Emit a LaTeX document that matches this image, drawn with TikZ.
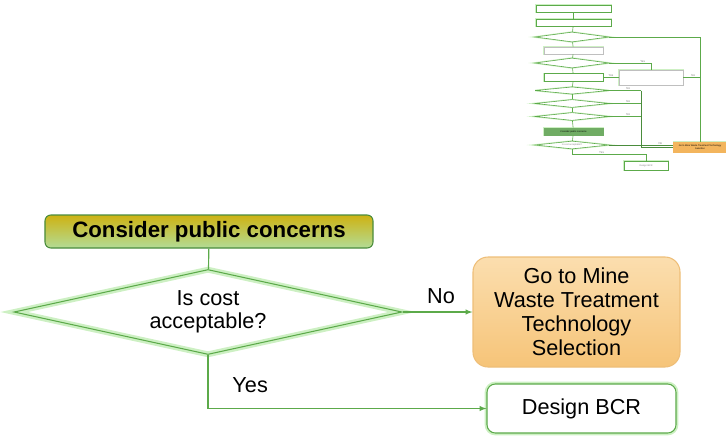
\documentclass[tikz,border=0pt]{standalone}
\usepackage{fontspec}
\setmainfont{Liberation Sans}
\usetikzlibrary{arrows}
\usetikzlibrary{shapes.geometric,calc}

\definecolor{linegreen}{RGB}{92,170,74}
\definecolor{darkgreen}{RGB}{74,140,60}
\definecolor{glowgreen}{RGB}{205,240,195}
\definecolor{goldtop}{RGB}{206,178,18}
\definecolor{palegreen}{RGB}{178,220,150}
\definecolor{orangetop}{RGB}{251,222,175}
\definecolor{orangemid}{RGB}{240,162,52}
\definecolor{orangebot}{RGB}{246,196,120}
\definecolor{orangeline}{RGB}{238,190,120}
\definecolor{minigreen}{RGB}{112,172,100}

\begin{document}
\begin{tikzpicture}[x=0.03cm,y=-0.03cm,
		box/.style={rectangle,rounded corners=5pt,draw=linegreen,line width=0.9pt,inner sep=0pt,align=center,font=\fontsize{18.5}{20.5}\selectfont},
		decision/.style={diamond,draw=linegreen,line width=0.9pt,inner sep=0pt,align=center,font=\fontsize{18.5}{20}\selectfont,preaction={draw=glowgreen,line width=5pt}},
		flow/.style={draw=linegreen,line width=1pt},
		mini/.style={rectangle,draw=linegreen,line width=0.5pt,fill=white,inner sep=0pt,align=center,text=gray,font=\fontsize{2}{2.4}\selectfont,preaction={draw=glowgreen,line width=1.2pt}},
		minidec/.style={diamond,shape aspect=9,draw=linegreen,line width=0.5pt,fill=white,inner sep=0pt,align=center,text=gray,font=\fontsize{2}{2.4}\selectfont,preaction={draw=glowgreen,line width=1.5pt}},
		tline/.style={draw=linegreen,line width=0.5pt},
		tlabel/.style={text=gray,font=\fontsize{2.5}{3}\selectfont,inner sep=0.5pt}]
		\useasboundingbox (0,0) rectangle (726,437);

		% enlarged part
		\node[box,draw=darkgreen,top color=goldtop,bottom color=palegreen,minimum width=9.84cm,minimum height=0.99cm,font=\fontsize{19}{21}\selectfont\bfseries] (consider) at (209,231.5) {Consider public concerns};
		\node[decision,shape aspect=4.56,minimum width=11.64cm,minimum height=2.55cm] (cost) at (208,312) {Is cost\\acceptable?};
		\node[box,draw=orangeline,top color=orangetop,middle color=orangemid,bottom color=orangebot,rounded corners=0.45cm,minimum width=6.21cm,minimum height=3.3cm] (mine) at (576.5,312) {Go to Mine\\Waste Treatment\\Technology\\Selection};
		\node[box,fill=white,preaction={draw=glowgreen,line width=4pt},rounded corners=0.25cm,minimum width=5.67cm,minimum height=1.47cm] (bcr) at (581.5,408.5) {Design BCR};

		\draw[flow] (consider) -- (cost);
		\draw[flow,-latex] (cost.east) -- (mine.west) node[pos=0.55,above=3pt,font=\fontsize{18.5}{20}\selectfont] (no) {No};
		\draw[flow,-latex] (cost.south) |- (bcr.west) node[pos=0.28,right=0.6cm,font=\fontsize{18.5}{20}\selectfont] (yes) {Yes};

		% thumbnail of the whole chart
		\node[mini,minimum width=2.25cm,minimum height=0.21cm] (t1) at (573.5,8.5) {};
		\node[mini,minimum width=2.25cm,minimum height=0.21cm] (t2) at (573.5,22.5) {};
		\node[minidec,minimum width=2.22cm,minimum height=0.3cm] (td1) at (572,37) {};
		\node[mini,draw=gray!50,minimum width=1.77cm,minimum height=0.21cm] (t3) at (573.5,50.5) {};
		\node[minidec,minimum width=2.22cm,minimum height=0.3cm] (td2) at (572,63) {};
		\node[mini,minimum width=1.77cm,minimum height=0.24cm] (t4) at (573.5,77.5) {};
		\node[mini,draw=gray!50,minimum width=1.92cm,minimum height=0.45cm] (t5) at (651,77.5) {};
		\node[minidec,minimum width=2.22cm,minimum height=0.22cm] (td3) at (572,90.5) {};
		\node[minidec,minimum width=2.22cm,minimum height=0.24cm] (td4) at (572,103.5) {};
		\node[minidec,minimum width=2.22cm,minimum height=0.24cm] (td5) at (572,116.5) {};
		\node[mini,fill=minigreen,draw=minigreen,text=black,minimum width=1.77cm,minimum height=0.21cm] (t6) at (573.5,131.5) {Consider public concerns};
		\node[minidec,minimum width=2.22cm,minimum height=0.24cm] (td6) at (572,145) {Is cost acceptable?};
		\node[mini,fill=orangemid!80,draw=orangemid!80,text=black,minimum width=1.59cm,minimum height=0.3cm] (tmine) at (700,147) {Go to Mine Waste Treatment Technology\\Selection};
		\node[mini,minimum width=1.32cm,minimum height=0.27cm] (tbcr) at (646,165.5) {Design BCR};
		\coordinate (tjoin) at (641,147);
		\coordinate (tbend) at (646,154);

		\foreach \a/\b in {t1/t2,t2/td1,td1/t3,t3/td2,td2/t4,t4/td3,td3/td4,td4/td5,td5/t6,t6/td6}
			\draw[tline] (\a) -- (\b);
		\draw[tline] (td1.east) -| (tmine.north);
		\draw[tline] (td2.east) -| (t5.north) node[pos=0.4,above,tlabel]{Yes};
		\draw[tline] (t5.west) -- (t4.east) node[pos=0.5,above,tlabel]{Yes};
		\draw[tline] (t5.east) -- (t5.east -| tmine.north) node[pos=0.6,above,tlabel]{No};
		\foreach \d in {td3,td4,td5}
			\draw[tline] (\d.east) -- (\d.east -| tjoin) node[pos=0.6,above,tlabel]{No};
		\draw[tline,line width=0.8pt,draw=darkgreen] (td3.east -| tjoin) -- (tjoin) -- (tmine.west);
		\draw[tline,draw=darkgreen] (td6.east) -- (td6.east -| tmine.west) node[pos=0.8,above,tlabel]{No};
		\draw[tline] (td6.south) |- (tbend) node[pos=0.7,above,tlabel]{Yes} -- (tbcr.north);
	\end{tikzpicture}
\end{document}
